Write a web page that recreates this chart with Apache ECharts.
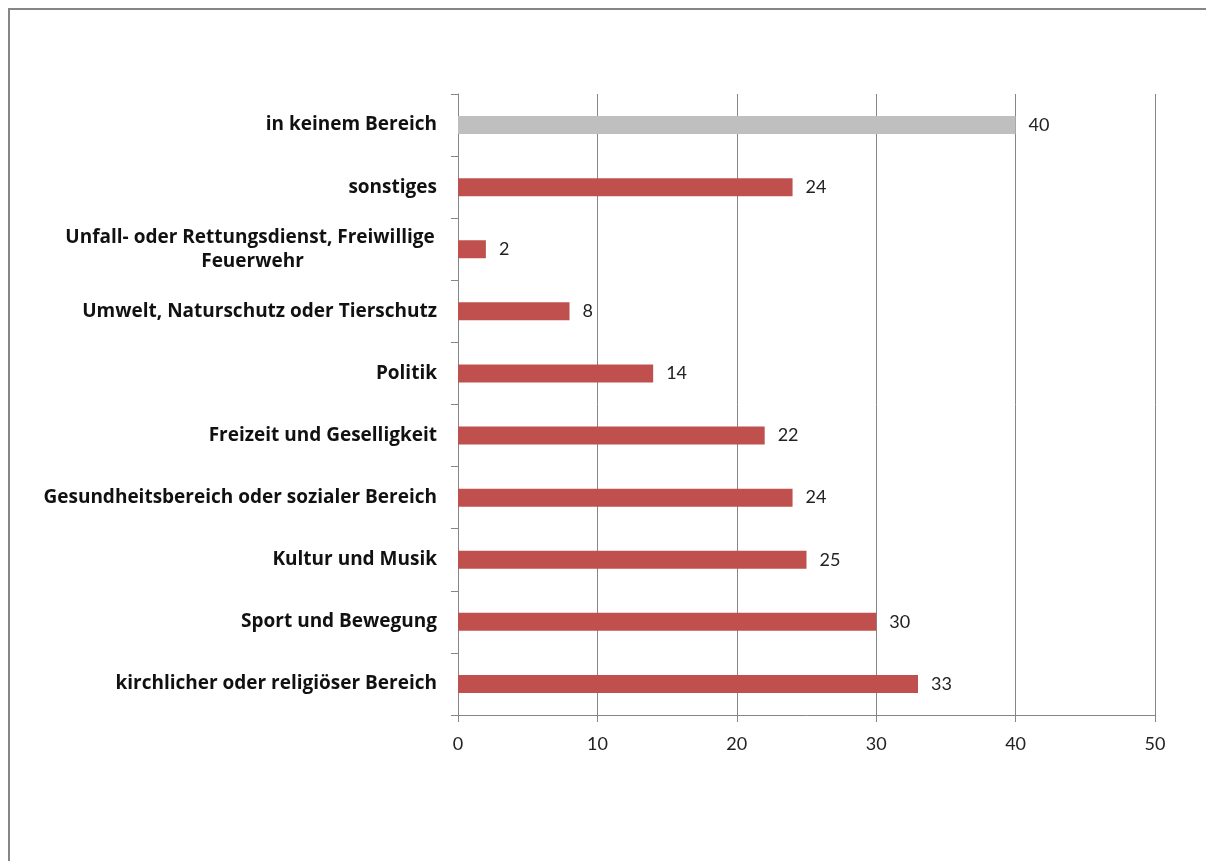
<!DOCTYPE html>
<html>
<head>
<meta charset="utf-8">
<script src="https://cdn.jsdelivr.net/npm/echarts@6/dist/echarts.min.js"></script>
<style>html,body{margin:0;padding:0;background:#fff;}#c{width:1206px;height:861px;}</style>
</head>
<body>
<div id="c"></div>
<script>
// Data (bottom to top as drawn by the category axis)
const categories = [
  'kirchlicher oder religiöser Bereich',
  'Sport und Bewegung',
  'Kultur und Musik',
  'Gesundheitsbereich oder sozialer Bereich',
  'Freizeit und Geselligkeit',
  'Politik',
  'Umwelt, Naturschutz oder Tierschutz',
  'Unfall- oder Rettungsdienst, Freiwillige Feuerwehr',
  'sonstiges',
  'in keinem Bereich'
];
const values = [33, 30, 25, 24, 22, 14, 8, 2, 24, 40];
const highlightCategory = 'in keinem Bereich';
const xTicks = [0, 10, 20, 30, 40, 50];

const chart = echarts.init(document.getElementById('c'), null, {renderer: 'canvas'});
const catFont = '"Open Sans", Lato, sans-serif';
const numFont = 'Lato, "Open Sans", sans-serif';

const yData = categories.map(c => {
  if (c.length > 45) {
    return {value: c, textStyle: {align: 'center', padding: [18, 369, 0, 0]}};
  }
  return {value: c, textStyle: {padding: [4, 0, 0, 0]}};
});

chart.setOption({
  animation: false,
  backgroundColor: '#fff',
  graphic: [{
    type: 'rect',
    shape: {x: 9, y: 9, width: 1400, height: 1200},
    style: {fill: null, stroke: '#868686', lineWidth: 2},
    silent: true
  }],
  grid: {left: 458, right: 51, top: 94, bottom: 146, containLabel: false},
  xAxis: {
    type: 'value',
    min: xTicks[0],
    max: xTicks[xTicks.length - 1],
    interval: 10,
    axisLine: {show: true, lineStyle: {color: '#868686', width: 1}},
    axisTick: {show: true, length: 7, lineStyle: {color: '#868686'}},
    splitLine: {show: true, lineStyle: {color: '#868686', width: 1}},
    axisLabel: {margin: 20, color: '#222', fontSize: 18, fontFamily: numFont}
  },
  yAxis: {
    type: 'category',
    data: yData,
    axisLine: {show: true, lineStyle: {color: '#868686', width: 1}},
    axisTick: {show: true, length: 7, alignWithLabel: false, lineStyle: {color: '#868686'}},
    axisLabel: {
      margin: 21, color: '#111', fontSize: 19, fontWeight: 'bold', fontFamily: catFont,
      width: 420, overflow: 'break', lineHeight: 24, interval: 0
    }
  },
  series: [{
    type: 'bar',
    data: values.map((v, i) => ({
      value: v,
      itemStyle: {color: categories[i] === highlightCategory ? '#BFBFBF' : '#C0504D'}
    })),
    barWidth: 18,
    label: {show: true, position: 'right', distance: 13, padding: [3, 0, 0, 0], color: '#222', fontSize: 18, fontFamily: numFont}
  }]
});
</script>
</body>
</html>
